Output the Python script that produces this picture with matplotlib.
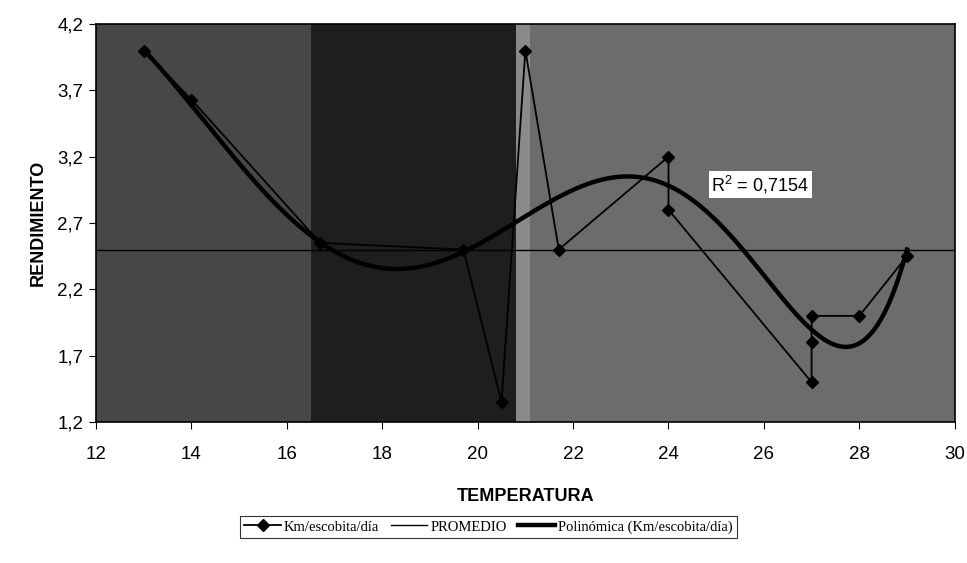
import numpy as np
import matplotlib.pyplot as plt
from matplotlib.ticker import FuncFormatter

# Km/escobita/dia series (temperature vs yield)
temperatura = [13, 14, 16.7, 19.7, 20.5, 21, 21.7, 24, 24, 27, 27, 27, 28, 29]
rendimiento = [4.0, 3.63, 2.55, 2.5, 1.35, 4.0, 2.5, 3.2, 2.8, 1.5, 1.8, 2.0, 2.0, 2.45]

promedio = 2.5

# readings of the polynomial trend line
trend_x = [13, 14, 15, 16, 17, 18, 19, 20, 21, 22, 23, 24, 25, 26, 27, 28, 29]
trend_y = [4.0, 3.6, 3.15, 2.75, 2.48, 2.36, 2.4, 2.55, 2.75, 2.93, 3.04, 2.98,
           2.75, 2.3, 1.88, 1.8, 2.5]
r2_label = "R$^2$ = 0,7154"

x_ticks = [12, 14, 16, 18, 20, 22, 24, 26, 28, 30]
y_ticks = [1.2, 1.7, 2.2, 2.7, 3.2, 3.7, 4.2]

plt.rcParams['font.family'] = ['Liberation Sans', 'DejaVu Sans']
plt.rcParams['mathtext.fontset'] = 'custom'
plt.rcParams['mathtext.rm'] = 'Liberation Sans'

fig = plt.figure(figsize=(9.67, 5.63), dpi=100)
ax = fig.add_axes([0.0993, 0.2504, 0.888, 0.7070])

# scanned grey background, darker in the middle band
ax.set_facecolor('#6c6c6c')
ax.axvspan(12, 16.5, color='#474747', zorder=0, lw=0)
ax.axvspan(16.5, 20.8, color='#1e1e1e', zorder=0, lw=0)
ax.axvspan(20.8, 21.1, color='#8a8a8a', zorder=0, lw=0)

# PROMEDIO
ax.axhline(promedio, color='black', lw=1.0, zorder=2, label='PROMEDIO')

# polynomial trend
coef = np.polyfit(trend_x, trend_y, 6)
xs = np.linspace(min(trend_x), max(trend_x), 300)
ax.plot(xs, np.polyval(coef, xs), color='black', lw=3.2, zorder=3,
        label='Polinómica (Km/escobita/día)')

# data series
ax.plot(temperatura, rendimiento, color='black', lw=1.3, marker='D', ms=6,
        zorder=4, label='Km/escobita/día')

ax.text(24.9, 2.99, r2_label, fontsize=13, va='center', ha='left', zorder=5,
        bbox=dict(facecolor='white', edgecolor='none', pad=2))

ax.set_xlim(12, 30)
ax.set_ylim(1.2, 4.2)
ax.set_xticks(x_ticks)
ax.set_yticks(y_ticks)
ax.yaxis.set_major_formatter(FuncFormatter(lambda v, p: f"{v:.1f}".replace('.', ',')))
ax.tick_params(labelsize=13.5, length=5, width=0.8, direction='out')
ax.tick_params(axis='x', pad=12)
ax.tick_params(axis='y', pad=4)
for s in ax.spines.values():
    s.set_color('black')
    s.set_linewidth(1.2)

ax.set_xlabel('TEMPERATURA', fontsize=13, fontweight='bold', labelpad=18)
ax.set_ylabel('RENDIMIENTO', fontsize=13, fontweight='bold', labelpad=8)

handles, labels = ax.get_legend_handles_labels()
order = [2, 0, 1]
leg = fig.legend([handles[i] for i in order], [labels[i] for i in order],
                 loc='center', bbox_to_anchor=(0.505, 0.064), ncol=3,
                 prop={'family': 'Liberation Serif', 'size': 10.5},
                 frameon=True, fancybox=False, edgecolor='black',
                 handlelength=2.5, handletextpad=0.2, columnspacing=0.8,
                 borderpad=0.3)
leg.get_frame().set_linewidth(0.8)

fig.savefig('out.png', dpi=100)
